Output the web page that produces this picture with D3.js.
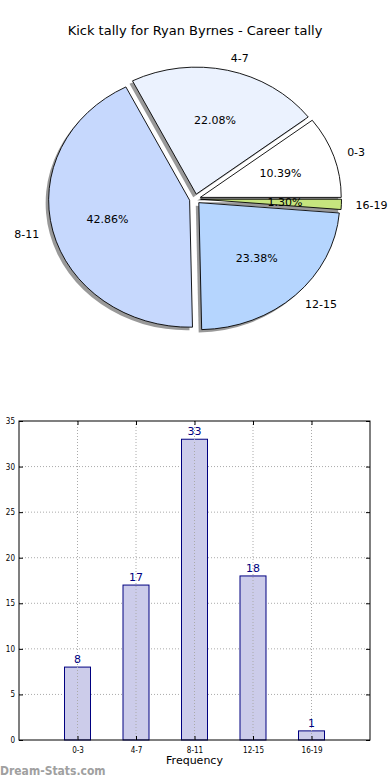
<!DOCTYPE html>
<html><head><meta charset="utf-8">
<script src="https://cdn.jsdelivr.net/npm/d3@7"></script>
<style>body{margin:0;background:#fff}svg{display:block;font-family:"DejaVu Sans",sans-serif}</style>
</head><body><svg id="c" width="390" height="780"></svg>
<script>
const title = "Kick tally for Ryan Byrnes - Career tally";
const categories = ["0-3","4-7","8-11","12-15","16-19"];
const values = [8,17,33,18,1];
const pieColors = ["#ffffff","#ebf2fe","#c6d8fd","#b5d5fe","#c6e57e"];
const yTicks = [0,5,10,15,20,25,30,35];
const xLabel = "Frequency";
const yLabel = "Occurrences";
const watermark = "Dream-Stats.com";

const svg = d3.select("#c");
svg.append("text").attr("x",195).attr("y",35).attr("text-anchor","middle")
  .attr("font-size",13).attr("fill","#000").text(title);

// ---- Pie ----
const cx = 195, cy = 199, R = 127, sx = 1.11, ex = 5;
const total = d3.sum(values);
const pie = d3.pie().sort(null).startAngle(Math.PI/2).endAngle(Math.PI/2 - 2*Math.PI);
const arcs = pie(values);
const arc = d3.arc().innerRadius(0).outerRadius(R);
const g = svg.append("g").attr("transform",`translate(${cx},${cy}) scale(${sx},1)`);
const off = d => { const m=(d.startAngle+d.endAngle)/2; return [Math.sin(m)*ex, -Math.cos(m)*ex]; };
g.selectAll("path.sh").data(arcs).join("path").attr("class","sh")
  .attr("d",arc).attr("fill","#333").attr("opacity",0.5)
  .attr("transform",d=>{const o=off(d);return `translate(${o[0]-3/sx},${o[1]+3})`;});
g.selectAll("path.w").data(arcs).join("path").attr("class","w")
  .attr("d",arc).attr("fill",(d,i)=>pieColors[i]).attr("stroke","#000")
  .attr("stroke-width",0.9).attr("vector-effect","non-scaling-stroke")
  .attr("transform",d=>{const o=off(d);return `translate(${o[0]},${o[1]})`;});
const pos = (d,r) => { const m=(d.startAngle+d.endAngle)/2; return [cx + sx*(r+ex)*Math.sin(m), cy - (r+ex)*Math.cos(m), Math.sin(m)]; };
arcs.forEach((d,i)=>{
  const p = pos(d,1.1*R);
  svg.append("text").attr("x",p[0]).attr("y",p[1]).attr("dy","0.35em")
    .attr("text-anchor", p[2] > 0 ? "start" : "end").attr("font-size",11).text(categories[i]);
  const q = pos(d,0.6*R);
  svg.append("text").attr("x",q[0]).attr("y",q[1]).attr("dy","0.35em")
    .attr("text-anchor","middle").attr("font-size",11)
    .text((100*values[i]/total).toFixed(2)+"%");
});

// ---- Bar chart ----
const L=19, Rt=370, T=421, B=740;
const x = d3.scaleLinear().domain([0,categories.length+1]).range([L,Rt]);
const y = d3.scaleLinear().domain([0,35]).range([B,T]);
const bg = svg.append("g");
bg.selectAll("line.gy").data(yTicks.slice(1,-1)).join("line")
  .attr("x1",L).attr("x2",Rt).attr("y1",d=>y(d)).attr("y2",d=>y(d))
  .attr("stroke","#aaa").attr("stroke-dasharray","1,2").attr("stroke-width",1);
const bw = 26;
bg.selectAll("rect").data(values).join("rect")
  .attr("x",(d,i)=>x(i+1)-bw/2).attr("width",bw)
  .attr("y",d=>y(d)).attr("height",d=>B-y(d))
  .attr("fill","#ccccea").attr("stroke","#000080").attr("stroke-width",1);
bg.selectAll("line.gx").data(categories).join("line")
  .attr("x1",(d,i)=>x(i+1)).attr("x2",(d,i)=>x(i+1)).attr("y1",T).attr("y2",B)
  .attr("stroke","#aaa").attr("stroke-dasharray","1,2").attr("stroke-width",1);
bg.selectAll("text.v").data(values).join("text")
  .attr("x",(d,i)=>x(i+1)).attr("y",d=>y(d)-4).attr("text-anchor","middle")
  .attr("font-size",11).attr("fill","#000080").text(d=>d);
const yAxis = d3.axisLeft(y).tickValues(yTicks).tickSize(-4).tickPadding(4);
const ya = bg.append("g").attr("transform",`translate(${L},0)`).call(yAxis);
ya.select(".domain").remove();
ya.selectAll("text").attr("font-size",8).attr("font-family","DejaVu Sans Condensed, DejaVu Sans").attr("fill","#000");
const yr = bg.append("g").attr("transform",`translate(${Rt},0)`).call(d3.axisRight(y).tickValues(yTicks).tickSize(-4).tickFormat(""));
yr.select(".domain").remove();
const xAxis = d3.axisBottom(x).tickValues(categories.map((c,i)=>i+1)).tickFormat((d)=>categories[d-1]).tickSize(-4).tickPadding(7);
const xa = bg.append("g").attr("transform",`translate(0,${B})`).call(xAxis);
xa.select(".domain").remove();
xa.selectAll("text").attr("font-size",8).attr("font-family","DejaVu Sans Condensed, DejaVu Sans").attr("fill","#000");
const xt = bg.append("g").attr("transform",`translate(0,${T})`).call(d3.axisTop(x).tickValues(categories.map((c,i)=>i+1)).tickSize(-4).tickFormat(""));
xt.select(".domain").remove();
bg.append("rect").attr("x",L).attr("y",T).attr("width",Rt-L).attr("height",B-T)
  .attr("fill","none").attr("stroke","#000").attr("stroke-width",1);
svg.append("text").attr("x",(L+Rt)/2).attr("y",764).attr("text-anchor","middle")
  .attr("font-size",11).text(xLabel);
svg.append("text").attr("transform",`translate(-1,${(T+B)/2}) rotate(-90)`)
  .attr("text-anchor","middle").attr("font-size",11).text(yLabel);
svg.append("text").attr("x",0).attr("y",775).attr("font-size",12).attr("font-weight","600")
  .attr("font-family","DejaVu Sans Condensed, DejaVu Sans")
  .attr("fill","#a0a0a0").text(watermark);
</script></body></html>
